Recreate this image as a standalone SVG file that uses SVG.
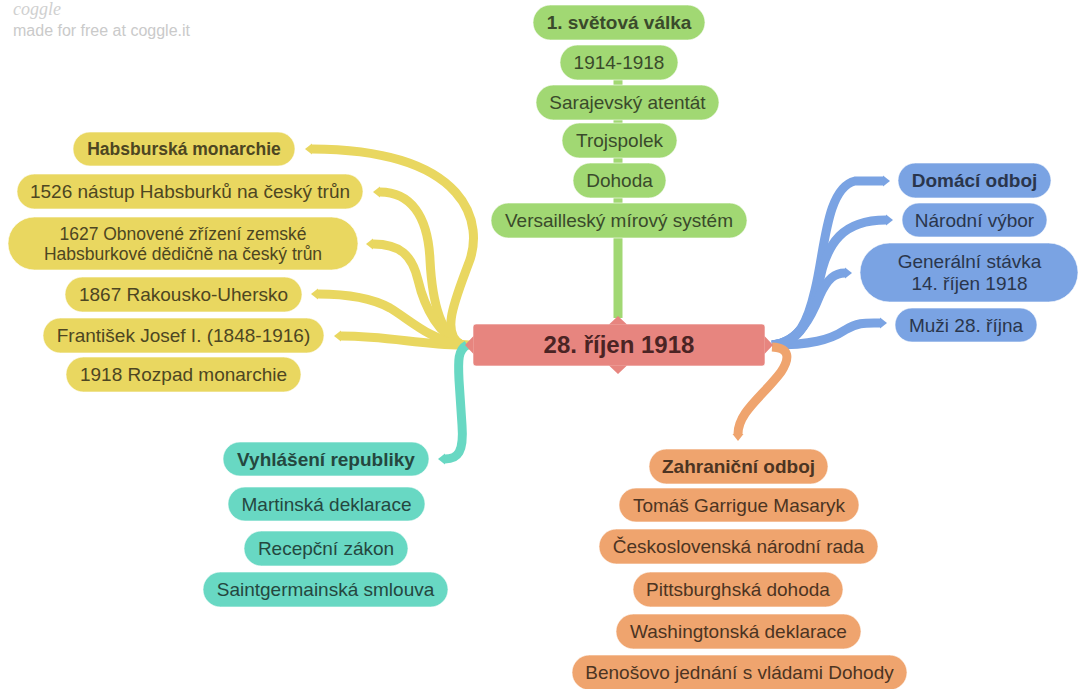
<svg xmlns="http://www.w3.org/2000/svg" width="1079" height="689" viewBox="0 0 1079 689">
<style>
text{font-family:"Liberation Sans",Arial,sans-serif;font-size:19px;text-anchor:middle}
.b{font-weight:bold}
.node rect{stroke:#ffffff;stroke-opacity:0.6;stroke-width:1}
.gr rect{fill:#a1d873}.gr text{fill:#3a4a2b}
.ye rect{fill:#e9d760}.ye text{fill:#4d4622}
.te rect{fill:#68d8c3}.te text{fill:#25473f}
.bl rect{fill:#7aa3e3}.bl text{fill:#2a364c}
.or rect{fill:#efa46e}.or text{fill:#4c3422}
.c{fill:none;stroke-width:9;stroke-linecap:butt}
</style>
<defs>
<marker id="mg" markerUnits="userSpaceOnUse" markerWidth="14" markerHeight="14" refX="0" refY="7" orient="auto"><path d="M0,1 L7,7 L0,13 Z" fill="#a1d873"/></marker>
<marker id="my" markerUnits="userSpaceOnUse" markerWidth="14" markerHeight="14" refX="0" refY="7" orient="auto"><path d="M0,1.5 L7,7 L0,12.5 Z" fill="#e9d760"/></marker>
<marker id="mt" markerUnits="userSpaceOnUse" markerWidth="14" markerHeight="14" refX="0" refY="7" orient="auto"><path d="M0,1.5 L7,7 L0,12.5 Z" fill="#68d8c3"/></marker>
<marker id="mb" markerUnits="userSpaceOnUse" markerWidth="14" markerHeight="14" refX="0" refY="7" orient="auto"><path d="M0,1.5 L7,7 L0,12.5 Z" fill="#7aa3e3"/></marker>
<marker id="mo" markerUnits="userSpaceOnUse" markerWidth="14" markerHeight="14" refX="0" refY="7" orient="auto"><path d="M0,1.5 L7,7 L0,12.5 Z" fill="#efa46e"/></marker>
</defs>
<rect width="1079" height="689" fill="#ffffff"/>
<g id="logo">
<text x="13" y="15" style="font-family:'Liberation Serif',serif;font-style:italic;font-size:18px;text-anchor:start;fill:#d0d0d0">coggle</text>
<text x="13" y="36" style="font-size:16px;text-anchor:start;fill:#cacaca">made for free at coggle.it</text>
</g>
<g id="connectors">
<path class="c" stroke="#a1d873" stroke-width="10" d="M618,318 L618,52" marker-end="url(#mg)"/>
<path class="c" stroke="#e9d760" d="M462,345 C440,335 455,300 468,265 C485,225 470,150 312,149" marker-end="url(#my)"/>
<path class="c" stroke="#e9d760" d="M462,345 C440,335 432,300 430,260 C428,215 410,192 380,192" marker-end="url(#my)"/>
<path class="c" stroke="#e9d760" d="M462,345 C440,335 425,310 418,280 C412,255 400,244 373,244" marker-end="url(#my)"/>
<path class="c" stroke="#e9d760" d="M462,345 C430,340 410,320 390,308 C370,297 345,294 318,294" marker-end="url(#my)"/>
<path class="c" stroke="#e9d760" d="M462,345 C420,345 390,336 341,336" marker-end="url(#my)"/>
<path class="c" stroke="#e9d760" stroke-width="12" d="M470,345 C455,345 445,342 435,338"/>
<path class="c" stroke="#68d8c3" d="M467,345 C458,350 458,360 459,380 L462,425 C464,452 458,459 445,459" marker-end="url(#mt)"/>
<path class="c" stroke="#7aa3e3" d="M772,345 C800,342 808,320 815,290 C825,250 826,188 855,181 L883,181" marker-end="url(#mb)"/>
<path class="c" stroke="#7aa3e3" d="M772,345 C800,342 810,320 818,290 C825,240 845,220 886,220" marker-end="url(#mb)"/>
<path class="c" stroke="#7aa3e3" d="M772,345 C800,342 812,315 820,295 C828,278 835,273 845,273" marker-end="url(#mb)"/>
<path class="c" stroke="#7aa3e3" d="M772,345 C810,345 830,340 845,330 C858,322 866,323 880,323" marker-end="url(#mb)"/>
<path class="c" stroke="#7aa3e3" stroke-width="14" d="M772,345 C795,343 803,330 808,315"/>
<path class="c" stroke="#efa46e" d="M772,347 C790,348 790,358 781,372 C763,396 738,412 738,434" marker-end="url(#mo)"/>
</g>
<g id="center">
<rect x="473" y="324" width="292" height="42" rx="3" fill="#e7857f" stroke="#ffffff" stroke-opacity="0.6"/>
<path d="M609,324.5 L618,316 L627,324.5 Z M609,365.5 L618,374 L627,365.5 Z M473.5,336 L465,345 L473.5,354 Z M764.5,336 L773,345 L764.5,354 Z" fill="#e7857f"/>
<text x="619" y="353" class="b" style="font-size:24px;fill:#4a2424">28. říjen 1918</text>
</g>
<g id="n-svetova" class="node gr"><rect x="533" y="5" width="172" height="35" rx="17.5"/><text x="619" y="29" class="b">1. světová válka</text></g>
<g id="n-1914" class="node gr"><rect x="560" y="45" width="118" height="35" rx="17.5"/><text x="619" y="69">1914-1918</text></g>
<g id="n-sarajevo" class="node gr"><rect x="536" y="85" width="183" height="35" rx="17.5"/><text x="627.5" y="109">Sarajevský atentát</text></g>
<g id="n-trojspolek" class="node gr"><rect x="562" y="123" width="115" height="35" rx="17.5"/><text x="619.5" y="147">Trojspolek</text></g>
<g id="n-dohoda" class="node gr"><rect x="573" y="163" width="93" height="35" rx="17.5"/><text x="619.5" y="187">Dohoda</text></g>
<g id="n-versailles" class="node gr"><rect x="491" y="203" width="256" height="35" rx="17.5"/><text x="619" y="227">Versailleský mírový systém</text></g>
<g id="n-habsburska" class="node ye"><rect x="73" y="132" width="222" height="34" rx="17"/><text x="184" y="155" class="b" style="font-size:17.5px">Habsburská monarchie</text></g>
<g id="n-1526" class="node ye"><rect x="17" y="174" width="346" height="35" rx="17.5"/><text x="190" y="198">1526 nástup Habsburků na český trůn</text></g>
<g id="n-1627" class="node ye"><rect x="8" y="217" width="350" height="53" rx="26.5"/><text x="183" y="240" style="font-size:17.5px">1627 Obnovené zřízení zemské</text><text x="183" y="259.5" style="font-size:17.5px">Habsburkové dědičně na český trůn</text></g>
<g id="n-1867" class="node ye"><rect x="65" y="277" width="237" height="35" rx="17.5"/><text x="183.5" y="301">1867 Rakousko-Uhersko</text></g>
<g id="n-frantisek" class="node ye"><rect x="43" y="318" width="281" height="35" rx="17.5"/><text x="183.5" y="342">František Josef I. (1848-1916)</text></g>
<g id="n-1918" class="node ye"><rect x="66" y="357" width="235" height="35" rx="17.5"/><text x="183.5" y="381">1918 Rozpad monarchie</text></g>
<g id="n-vyhlaseni" class="node te"><rect x="223" y="442" width="206" height="34" rx="17"/><text x="326" y="465.5" class="b">Vyhlášení republiky</text></g>
<g id="n-martinska" class="node te"><rect x="228" y="487" width="197" height="34" rx="17"/><text x="326.5" y="510.5">Martinská deklarace</text></g>
<g id="n-recepcni" class="node te"><rect x="244" y="531" width="164" height="35" rx="17.5"/><text x="326" y="555">Recepční zákon</text></g>
<g id="n-saintgermain" class="node te"><rect x="203" y="572" width="245" height="35" rx="17.5"/><text x="325.5" y="596">Saintgermainská smlouva</text></g>
<g id="n-domaci" class="node bl"><rect x="898" y="163" width="153" height="35" rx="17.5"/><text x="974.5" y="187" class="b">Domácí odboj</text></g>
<g id="n-narodni" class="node bl"><rect x="902" y="203" width="145" height="34" rx="17"/><text x="974.5" y="226.5">Národní výbor</text></g>
<g id="n-generalni" class="node bl"><rect x="860" y="243" width="218" height="59" rx="29.5"/><text x="969.5" y="267.5">Generální stávka</text><text x="969.5" y="290">14. říjen 1918</text></g>
<g id="n-muzi" class="node bl"><rect x="895" y="308" width="142" height="34" rx="17"/><text x="966" y="331.5">Muži 28. října</text></g>
<g id="n-zahranicni" class="node or"><rect x="649" y="449" width="179" height="35" rx="17.5"/><text x="738.5" y="473" class="b">Zahraniční odboj</text></g>
<g id="n-masaryk" class="node or"><rect x="619" y="488" width="240" height="34" rx="17"/><text x="739" y="511.5">Tomáš Garrigue Masaryk</text></g>
<g id="n-cnr" class="node or"><rect x="599" y="529" width="279" height="35" rx="17.5"/><text x="738.5" y="553">Československá národní rada</text></g>
<g id="n-pittsburgh" class="node or"><rect x="633" y="572" width="210" height="35" rx="17.5"/><text x="738" y="596">Pittsburghská dohoda</text></g>
<g id="n-washington" class="node or"><rect x="616" y="614" width="245" height="35" rx="17.5"/><text x="738.5" y="638">Washingtonská deklarace</text></g>
<g id="n-benes" class="node or"><rect x="572" y="655" width="335" height="35" rx="17.5"/><text x="739.5" y="679">Benošovo jednání s vládami Dohody</text></g>
</svg>
